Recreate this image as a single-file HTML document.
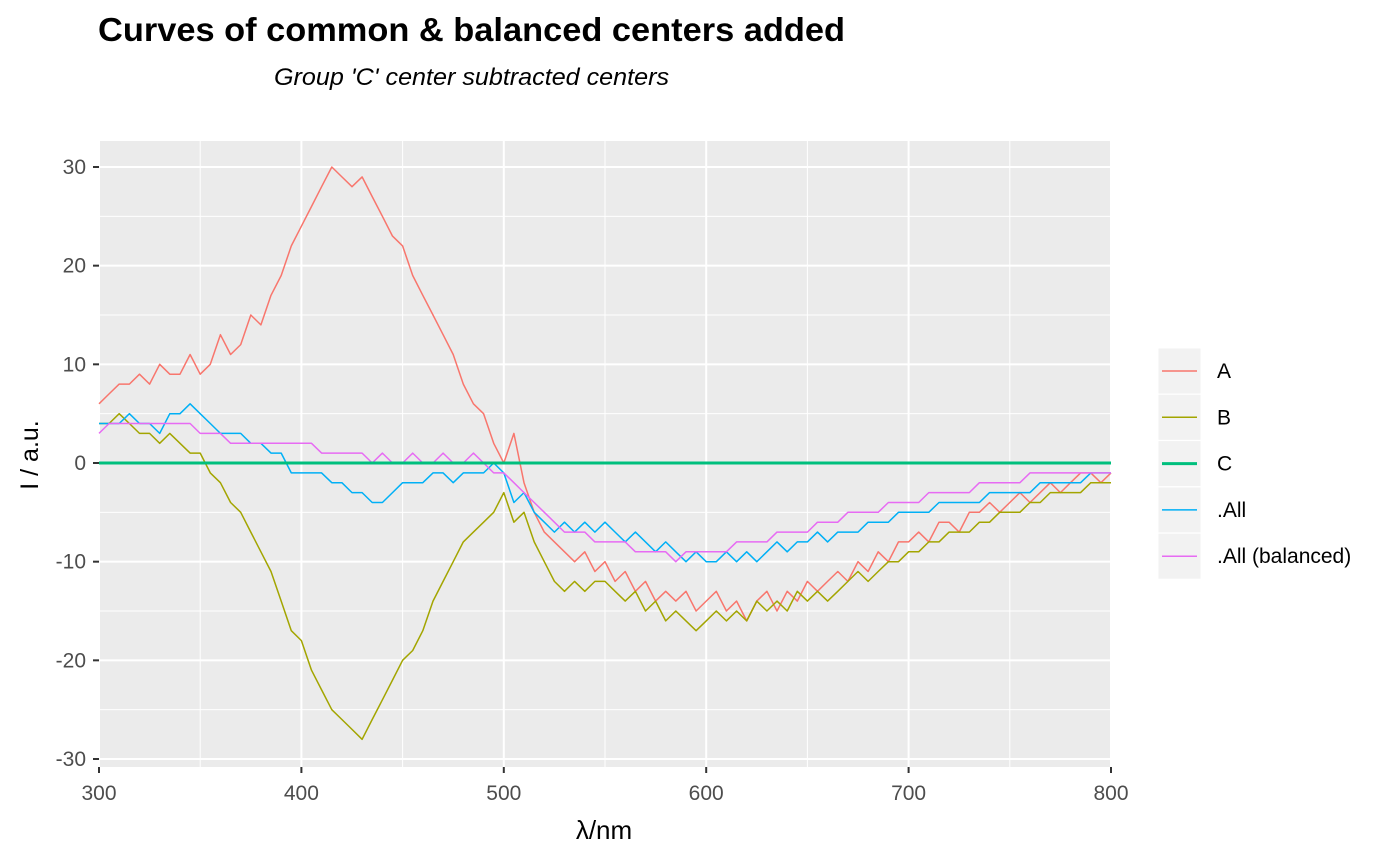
<!DOCTYPE html>
<html><head><meta charset="utf-8"><style>body{margin:0;background:#fff}svg{display:block}</style></head>
<body>
<svg id="chart" width="1400" height="866" xmlns="http://www.w3.org/2000/svg" font-family="Liberation Sans, Arial, sans-serif">
<text x="98" y="41" font-size="33" font-weight="bold" textLength="747" lengthAdjust="spacingAndGlyphs">Curves of common &amp; balanced centers added</text>
<text x="274" y="85" font-size="24" font-style="italic" textLength="395" lengthAdjust="spacingAndGlyphs">Group 'C' center subtracted centers</text>
<rect x="99" y="141" width="1012" height="626" fill="#EBEBEB"/>
<g id="grid"></g><g id="series"></g><g id="axes"></g>
<text x="604" y="839" font-size="26" text-anchor="middle">λ/nm</text>
<text transform="translate(38,455) rotate(-90)" font-size="25" text-anchor="middle">I / a.u.</text>
<g id="legend"></g>
</svg>
<script>
const xStart=300, xStep=5;
const seriesNames=["A","B","C",".All",".All (balanced)"];
const seriesA=[6,7,8,8,9,8,10,9,9,11,9,10,13,11,12,15,14,17,19,22,24,26,28,30,29,28,29,27,25,23,22,19,17,15,13,11,8,6,5,2,0,3,-2,-5,-7,-8,-9,-10,-9,-11,-10,-12,-11,-13,-12,-14,-13,-14,-13,-15,-14,-13,-15,-14,-16,-14,-13,-15,-13,-14,-12,-13,-12,-11,-12,-10,-11,-9,-10,-8,-8,-7,-8,-6,-6,-7,-5,-5,-4,-5,-4,-3,-4,-3,-2,-3,-2,-1,-1,-2,-1];
const seriesB=[4,4,5,4,3,3,2,3,2,1,1,-1,-2,-4,-5,-7,-9,-11,-14,-17,-18,-21,-23,-25,-26,-27,-28,-26,-24,-22,-20,-19,-17,-14,-12,-10,-8,-7,-6,-5,-3,-6,-5,-8,-10,-12,-13,-12,-13,-12,-12,-13,-14,-13,-15,-14,-16,-15,-16,-17,-16,-15,-16,-15,-16,-14,-15,-14,-15,-13,-14,-13,-14,-13,-12,-11,-12,-11,-10,-10,-9,-9,-8,-8,-7,-7,-7,-6,-6,-5,-5,-5,-4,-4,-3,-3,-3,-3,-2,-2,-2];
const seriesC=new Array(101).fill(0);
const seriesAll=[4,4,4,5,4,4,3,5,5,6,5,4,3,3,3,2,2,1,1,-1,-1,-1,-1,-2,-2,-3,-3,-4,-4,-3,-2,-2,-2,-1,-1,-2,-1,-1,-1,0,-1,-4,-3,-5,-6,-7,-6,-7,-6,-7,-6,-7,-8,-7,-8,-9,-8,-9,-10,-9,-10,-10,-9,-10,-9,-10,-9,-8,-9,-8,-8,-7,-8,-7,-7,-7,-6,-6,-6,-5,-5,-5,-5,-4,-4,-4,-4,-4,-3,-3,-3,-3,-3,-2,-2,-2,-2,-2,-1,-1,-1];
const seriesBal=[3,4,4,4,4,4,4,4,4,4,3,3,3,2,2,2,2,2,2,2,2,2,1,1,1,1,1,0,1,0,0,1,0,0,1,0,0,1,0,-1,-1,-2,-3,-4,-5,-6,-7,-7,-7,-8,-8,-8,-8,-9,-9,-9,-9,-10,-9,-9,-9,-9,-9,-8,-8,-8,-8,-7,-7,-7,-7,-6,-6,-6,-5,-5,-5,-5,-4,-4,-4,-4,-3,-3,-3,-3,-3,-2,-2,-2,-2,-2,-1,-1,-1,-1,-1,-1,-1,-1,-1];
const xTicks=[300,400,500,600,700,800];
const yTicks=[-30,-20,-10,0,10,20,30];
const NS="http://www.w3.org/2000/svg";
const X=v=>99+(v-300)*1012/500;
const Y=v=>463-v*9.867;
function mk(t,a,p){const e=document.createElementNS(NS,t);for(const k in a)e.setAttribute(k,a[k]);p.appendChild(e);return e;}
const grid=document.getElementById('grid'),axes=document.getElementById('axes');
for(let v=350;v<800;v+=100){const l=mk('line',{x1:X(v),x2:X(v),y1:141,y2:767,stroke:'#fff','stroke-width':1},grid);

}
for(let v=-25;v<=30;v+=10){const l=mk('line',{x1:99,x2:1111,y1:Y(v),y2:Y(v),stroke:'#fff','stroke-width':1},grid);

}
xTicks.forEach(v=>{const l=mk('line',{x1:X(v),x2:X(v),y1:141,y2:767,stroke:'#fff','stroke-width':2},grid);


const t=mk('line',{x1:X(v),x2:X(v),y1:767,y2:773,stroke:'#333','stroke-width':2},axes);


const tx=mk('text',{x:X(v),y:800,'font-size':21,fill:'#4D4D4D','text-anchor':'middle'},axes);tx.textContent=v;

});
yTicks.forEach(v=>{const l=mk('line',{x1:99,x2:1111,y1:Y(v),y2:Y(v),stroke:'#fff','stroke-width':2},grid);


const t=mk('line',{x1:93,x2:99,y1:Y(v),y2:Y(v),stroke:'#333','stroke-width':2},axes);


const tx=mk('text',{x:86,y:Y(v)+7,'font-size':21,fill:'#4D4D4D','text-anchor':'end'},axes);tx.textContent=v;

});
const colors=["#F8766D","#A3A500","#00BF7D","#00B0F6","#E76BF3"];
const data=[seriesA,seriesB,seriesC,seriesAll,seriesBal];
const order=[0,1,3,4,2];
const sg=document.getElementById('series');
order.forEach(i=>{const d=data[i].map((v,j)=>(j?'L':'M')+X(xStart+j*xStep).toFixed(1)+','+Y(v).toFixed(1)).join('');
const p=mk('path',{d:d,fill:'none',stroke:colors[i],'stroke-width':i==2?3:1.5,'stroke-linejoin':'round'},sg);

});
const lg=document.getElementById('legend');
seriesNames.forEach((n,i)=>{const cy=371+i*46.3;
const r=mk('rect',{x:1158,y:cy-23,width:43,height:46,fill:'#F2F2F2',stroke:'#fff','stroke-width':1},lg);


const l=mk('line',{x1:1162,x2:1197,y1:cy,y2:cy,stroke:colors[i],'stroke-width':i==2?3:1.5},lg);


const t=mk('text',{x:1217,y:cy+7,'font-size':21,fill:'#000'},lg);t.textContent=n;

});
</script>
</body></html>
